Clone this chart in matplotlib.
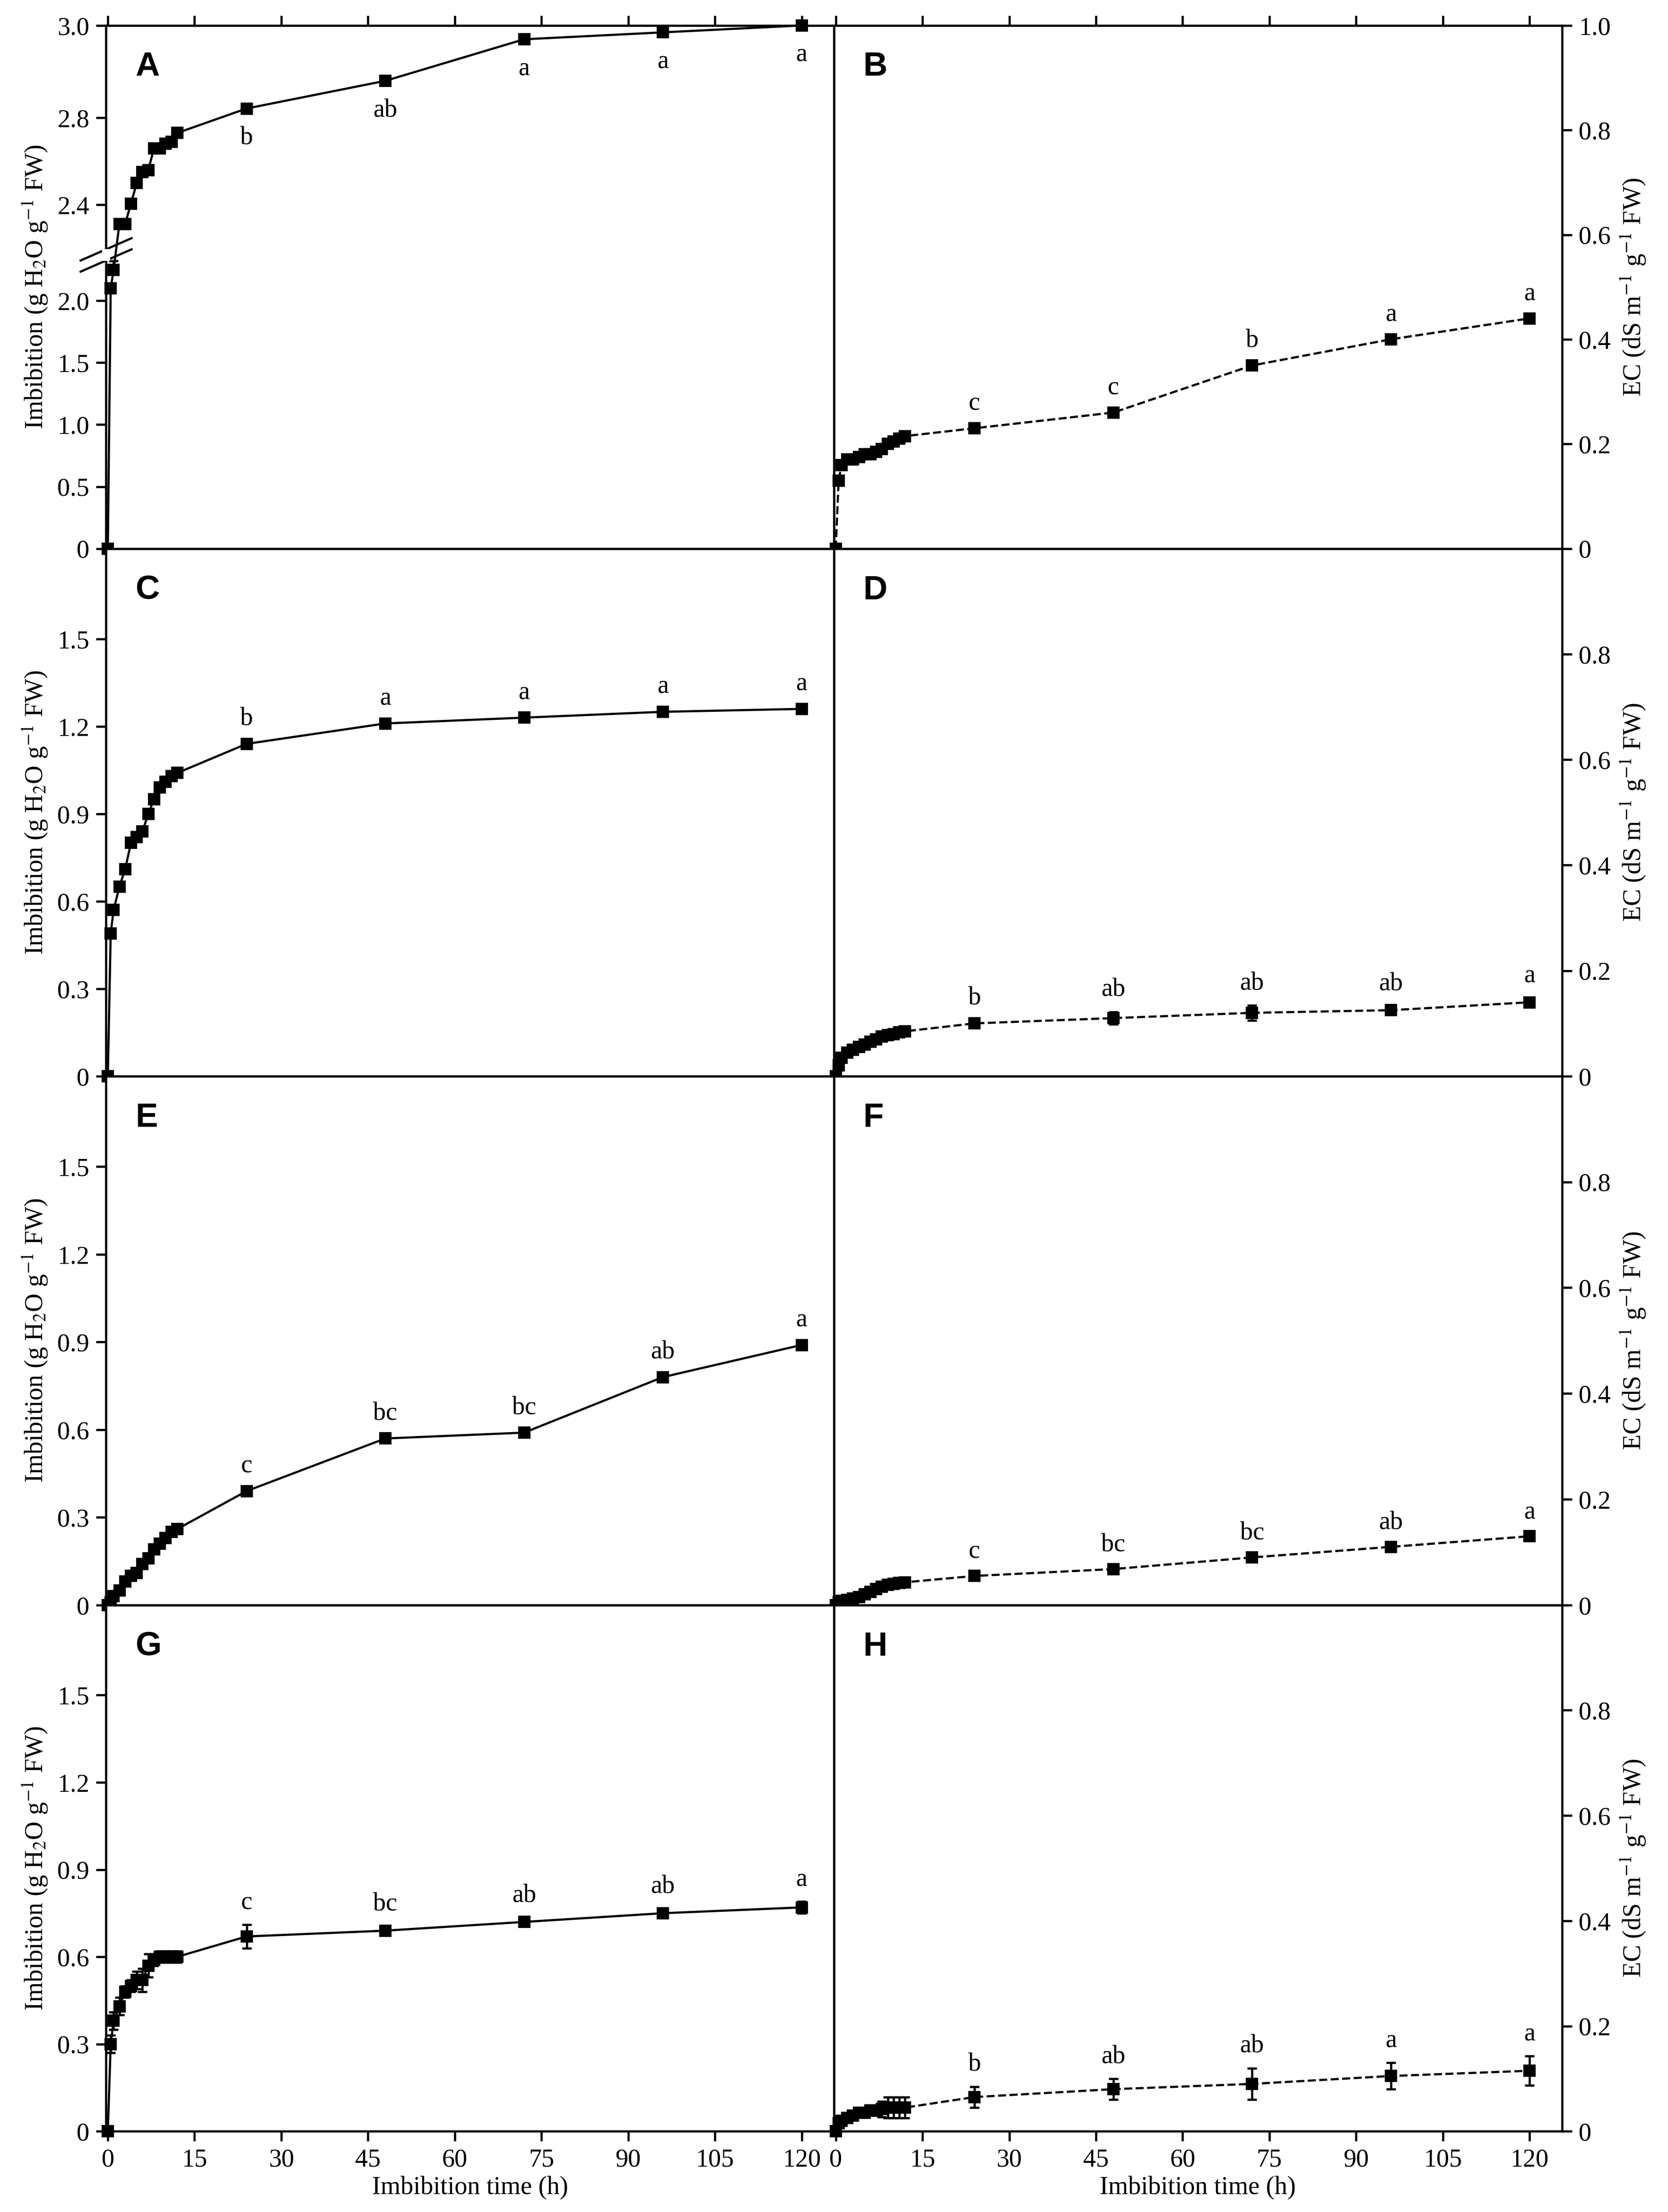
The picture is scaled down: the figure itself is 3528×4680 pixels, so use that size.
import numpy as np
import matplotlib
matplotlib.use("Agg")
import matplotlib.pyplot as plt

plt.rcParams['font.family'] = ['Liberation Serif', 'DejaVu Serif']
plt.rcParams['mathtext.fontset'] = 'stix'

T = [0, 0.5, 1, 2, 3, 4, 5, 6, 7, 8, 9, 10, 11, 12, 24, 48, 72, 96, 120]
LT = [24, 48, 72, 96, 120]

A = [0, 2.10, 2.25, 2.31, 2.31, 2.405, 2.50, 2.55, 2.56, 2.66, 2.66, 2.68, 2.69, 2.73, 2.82, 2.88, 2.97, 2.985, 3.0]
B = [0, 0.13, 0.16, 0.17, 0.17, 0.175, 0.18, 0.18, 0.185, 0.19, 0.20, 0.205, 0.21, 0.215, 0.23, 0.26, 0.35, 0.40, 0.44]
C = [0, 0.49, 0.57, 0.65, 0.71, 0.80, 0.82, 0.84, 0.90, 0.95, 0.99, 1.01, 1.03, 1.04, 1.14, 1.21, 1.23, 1.25, 1.26]
D = [0, 0.02, 0.035, 0.045, 0.05, 0.055, 0.06, 0.065, 0.07, 0.075, 0.078, 0.08, 0.083, 0.085, 0.10, 0.11, 0.12, 0.125, 0.14]
E = [0, 0.01, 0.03, 0.05, 0.08, 0.10, 0.11, 0.14, 0.16, 0.19, 0.21, 0.23, 0.25, 0.26, 0.39, 0.57, 0.59, 0.78, 0.89]
F = [0, 0.005, 0.008, 0.01, 0.012, 0.015, 0.02, 0.025, 0.03, 0.035, 0.038, 0.04, 0.042, 0.043, 0.055, 0.068, 0.09, 0.11, 0.13]
G = [0, 0.30, 0.38, 0.43, 0.48, 0.50, 0.52, 0.52, 0.57, 0.59, 0.60, 0.60, 0.60, 0.60, 0.67, 0.69, 0.72, 0.75, 0.77]
H = [0, 0.015, 0.02, 0.025, 0.03, 0.035, 0.035, 0.04, 0.04, 0.042, 0.045, 0.045, 0.045, 0.045, 0.065, 0.08, 0.09, 0.105, 0.115]

errA = [0, 0.01, 0.01, 0.01, 0.01, 0.01, 0.01, 0.01, 0.01, 0.01, 0.01, 0.01, 0.01, 0.01, 0.005, 0.005, 0.005, 0.005, 0.005]
errB = [0.005]*19
errC = [0.01]*19
errD = [0.005]*14 + [0.006, 0.012, 0.014, 0.008, 0.008]
errE = [0.01]*19
errF = [0.004]*19
errG = [0.01, 0.03, 0.03, 0.03, 0.02, 0.02, 0.03, 0.04, 0.04, 0.02, 0.02, 0.02, 0.02, 0.02, 0.04, 0.015, 0.015, 0.015, 0.02]
errH = [0.005]*8 + [0.01, 0.015, 0.02, 0.02, 0.02, 0.02, 0.02, 0.02, 0.03, 0.025, 0.028]

labA = ['b', 'ab', 'a', 'a', 'a']
labB = ['c', 'c', 'b', 'a', 'a']
labC = ['b', 'a', 'a', 'a', 'a']
labD = ['b', 'ab', 'ab', 'ab', 'a']
labE = ['c', 'bc', 'bc', 'ab', 'a']
labF = ['c', 'bc', 'bc', 'ab', 'a']
labG = ['c', 'bc', 'ab', 'ab', 'a']
labH = ['b', 'ab', 'ab', 'a', 'a']

# broken-axis mapping for panel A
KY = [0, 2.25, 2.3, 2.4, 2.8, 3.0]
KT = [0, 2.25, 2.603, 2.775, 3.477, 4.222]
def fwd(y):
    y = np.asarray(y, float)
    return np.interp(y, KY, KT, left=-1e9, right=1e9) if False else np.where(y > 3.0, 4.222 + (y-3.0)*3.72, np.where(y < 0, y, np.interp(y, KY, KT)))
def inv(t):
    t = np.asarray(t, float)
    return np.where(t > 4.222, 3.0 + (t-4.222)/3.72, np.where(t < 0, t, np.interp(t, KT, KY)))

fig = plt.figure(figsize=(11.76, 15.6), dpi=300)
x0, xm, x1 = 0.0636, 0.5, 0.936
rows = [(0.752, 0.9885), (0.5135, 0.752), (0.2744, 0.5135), (0.0365, 0.2744)]

panels = [
    ('A', A, errA, labA, 'left', 0), ('B', B, errB, labB, 'right', 0),
    ('C', C, errC, labC, 'left', 1), ('D', D, errD, labD, 'right', 1),
    ('E', E, errE, labE, 'left', 2), ('F', F, errF, labF, 'right', 2),
    ('G', G, errG, labG, 'left', 3), ('H', H, errH, labH, 'right', 3),
]
fs = 13
for name, vals, err, labs, side, r in panels:
    b, t = rows[r]
    left = x0 if side == 'left' else xm
    ax = fig.add_axes([left, b, xm - x0, t - b])
    ls = '-' if side == 'left' else '--'
    ax.errorbar(T, vals, yerr=err, fmt='s', ls=ls, color='black', ms=5.5, lw=1.1,
                capsize=2.5, elinewidth=1.1, capthick=1.1, clip_on=False, zorder=3)
    ax.set_xlim(-0.3, 125.6)
    ax.set_xticks(np.arange(0, 121, 15))
    if name == 'A':
        ax.set_yscale('function', functions=(fwd, inv))
        ax.set_ylim(0, 3.0)
        ax.set_yticks([0, 0.5, 1.0, 1.5, 2.0, 2.4, 2.8, 3.0])
        ax.set_yticklabels(['0', '0.5', '1.0', '1.5', '2.0', '2.4', '2.8', '3.0'])
        # break marks
        for dy in (-0.045, 0.045):
            yb = inv(2.4 + dy)
            ax.annotate('', xy=(0, 0), xytext=(0, 0))
            tr = ax.get_yaxis_transform()
            ax.plot([-0.035, 0.035], [inv(2.37 + dy - 0.09), inv(2.37 + dy + 0.09)],
                    transform=tr, color='black', lw=1.1, clip_on=False)
        tr = ax.get_yaxis_transform()
        ax.fill_between([-0.004, 0.004], [inv(2.33)]*2, [inv(2.41)]*2, transform=tr,
                        color='white', zorder=5, clip_on=False)
    elif side == 'left':
        ax.set_ylim(0, 1.81)
        ax.set_yticks([0, 0.3, 0.6, 0.9, 1.2, 1.5])
        ax.set_yticklabels(['0', '0.3', '0.6', '0.9', '1.2', '1.5'])
    else:
        ax.set_ylim(0, 1.0)
        if name == 'B':
            ax.set_yticks([0, 0.2, 0.4, 0.6, 0.8, 1.0])
            ax.set_yticklabels(['0', '0.2', '0.4', '0.6', '0.8', '1.0'])
        else:
            ax.set_yticks([0, 0.2, 0.4, 0.6, 0.8])
            ax.set_yticklabels(['0', '0.2', '0.4', '0.6', '0.8'])
    if side == 'left':
        ax.set_ylabel('Imbibition (g H$_2$O g$^{-1}$ FW)', fontsize=fs)
    else:
        ax.yaxis.tick_right()
        ax.yaxis.set_label_position('right')
        ax.set_ylabel('EC (dS m$^{-1}$ g$^{-1}$ FW)', fontsize=fs)
    ax.tick_params(axis='both', direction='out', length=5, width=1.1, labelsize=fs)
    if r == 0:
        ax.tick_params(axis='x', top=True, which='both')
    if r < 3:
        ax.tick_params(axis='x', labelbottom=False)
    else:
        ax.set_xlabel('Imbibition time (h)', fontsize=fs, labelpad=2)
    for s in ax.spines.values():
        s.set_linewidth(1.1)
    ax.text(0.04, 0.92, name, transform=ax.transAxes, fontsize=17, fontweight='bold',
            family='Liberation Sans', va='center')
    below = name == 'A'
    for xt, lab in zip(LT, labs):
        yv = vals[T.index(xt)]
        ev = err[T.index(xt)]
        if below:
            ax.annotate(lab, (xt, yv), xytext=(0, -9), textcoords='offset points',
                        ha='center', va='top', fontsize=fs)
        else:
            ax.annotate(lab, (xt, yv + ev), xytext=(0, 5), textcoords='offset points',
                        ha='center', va='bottom', fontsize=fs)

fig.savefig('out.png', dpi=300)
